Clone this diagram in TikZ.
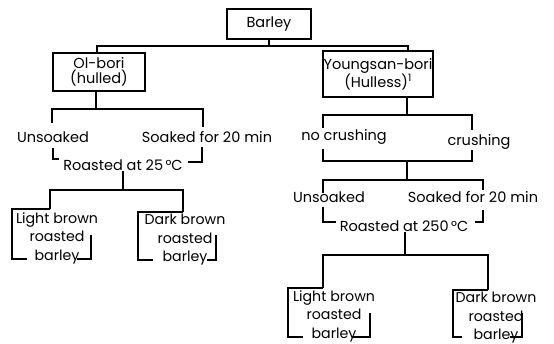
\documentclass[tikz,border=0pt]{standalone}
\usepackage{fontspec}
\setmainfont{Poppins}
\newcommand\leafframe[8]{%
  \draw (#5,#2) -- (#1,#2) -- (#1,#4) -- (#6,#4);
  \draw (#7,#4) -- (#3,#4) -- (#3,#8);}
\begin{document}
\begin{tikzpicture}[x=1pt,y=-1pt,line width=1.3pt,
  txt/.style={inner sep=0pt,font=\fontsize{14.5}{15}\selectfont},
  box/.style={draw,rectangle,inner sep=0pt,align=center,font=\fontsize{14.5}{15}\selectfont},
  leaf/.style={inner sep=0pt,align=center,font=\fontsize{14.2}{18.5}\selectfont}]
\useasboundingbox (0,0) rectangle (554,344);
% top
\node[box,minimum width=84pt,minimum height=30pt] (barley) at (269,24) {Barley};
\node[box,minimum width=92pt,minimum height=38pt] (olbori) at (99,72) {Ol-bori\\(hulled)};
\node[box,minimum width=110pt,minimum height=46pt,font=\fontsize{14.5}{18}\selectfont] (young) at (378,74) {Youngsan-bori\\(Hulless)\textsuperscript{1}};
\coordinate (bL) at (97,46); \coordinate (bR) at (408,46);
\draw (barley.south) -- (barley.south |- bL);
\draw (olbori.north -| bL) -- (bL) -- (bR) -- (young.north -| bR);
% left branch
\node[txt] (unsL) at (53,137) {Unsoaked};
\node[txt] (soakL) at (207,137) {Soaked for 20 min};
\node[txt] (roastL) at (123,165) {Roasted at 25\,°C};
\coordinate (oL) at (52,109); \coordinate (oR) at (203,109);
\draw (olbori.south -| 96,0) -- (96,109);
\draw (52,123) -- (oL) -- (oR) -- (203,127);
\draw (53,148) -- (53,159) -- (59,159);
\draw (188,162) -- (202,162) -- (202,147);
\coordinate (rL) at (50,190); \coordinate (rR) at (183,190);
\draw (roastL.south -| 123,0) -- (123,190);
\draw (50,209) -- (rL) -- (rR) -- (183,212);
\node[leaf] (lbL) at (57,238) {Light brown\\roasted\\barley};
\node[leaf] (dbL) at (185,240) {Dark brown\\roasted\\barley};
\leafframe{12}{209}{91}{259}{50}{27}{77}{235}
\leafframe{138}{212}{216}{260}{183}{153}{207}{235}
% right branch
\node[txt] (nocr) at (344,137) {no crushing};
\node[txt] (cr) at (479,142) {crushing};
\coordinate (yL) at (323,115); \coordinate (yR) at (472,115);
\draw (young.south -| 407,0) -- (407,115);
\draw (323,128) -- (yL) -- (yR) -- (472,130);
\coordinate (cL) at (323,161); \coordinate (cR) at (472,161);
\draw (323,149) -- (cL) -- (cR) -- (472,150);
\coordinate (sL) at (323,180); \coordinate (sR) at (483,180);
\draw (407,161) -- (407,180);
\draw (323,193) -- (sL) -- (sR) -- (483,190);
\node[txt] (unsR) at (329,197) {Unsoaked};
\node[txt] (soakR) at (473,197) {Soaked for 20 min};
\node[txt] (roastR) at (404,226) {Roasted at 250\,°C};
\draw (323,207) -- (323,222) -- (336,222);
\draw (475,222) -- (483,222) -- (483,210);
\coordinate (tL) at (323,255); \coordinate (tR) at (488,255);
\draw (roastR.south -| 405,0) -- (405,255);
\draw (323,288) -- (tL) -- (tR) -- (488,290);
\node[leaf] (lbR) at (334,316) {Light brown\\roasted\\barley};
\node[leaf] (dbR) at (496,318) {Dark brown\\roasted\\barley};
\leafframe{288}{288}{370}{337}{323}{303}{352}{313}
\leafframe{453}{290}{522}{337}{488}{462}{510}{313}
\end{tikzpicture}
\end{document}
